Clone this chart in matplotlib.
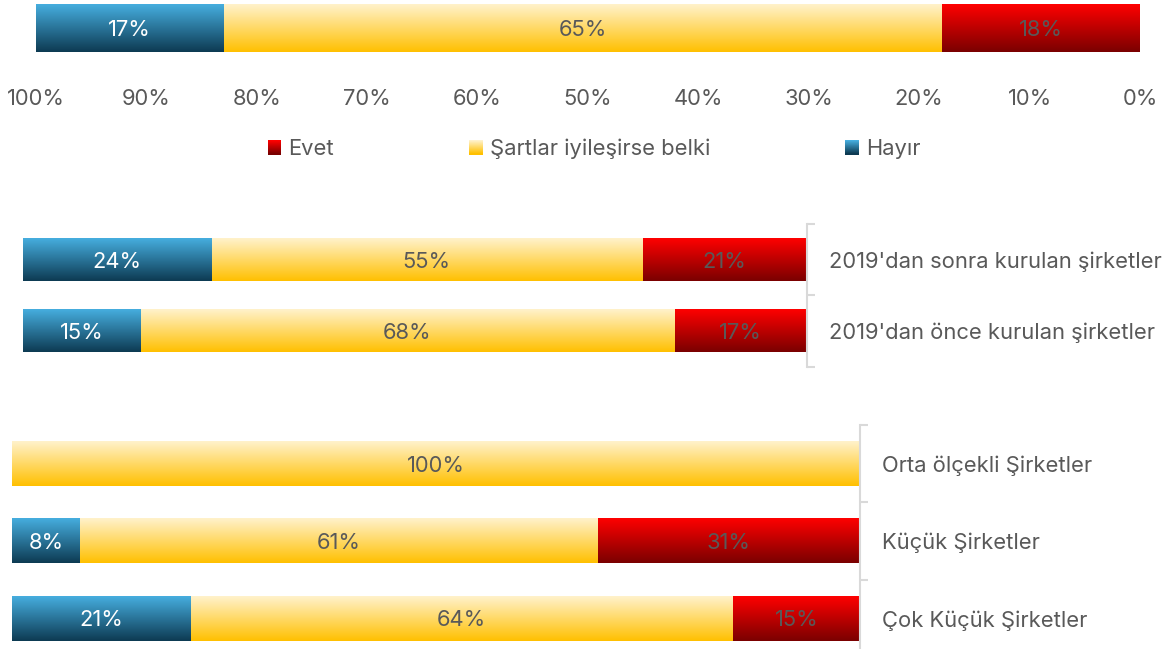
import numpy as np
import matplotlib
matplotlib.use("Agg")
import matplotlib.pyplot as plt
from matplotlib.colors import LinearSegmentedColormap
from matplotlib.patches import Rectangle
from matplotlib.legend_handler import HandlerBase

plt.rcParams["font.family"] = ["Inter", "DejaVu Sans"]

# ---- data -------------------------------------------------------------
series = ["Evet", "Şartlar iyileşirse belki", "Hayır"]

overall = [18, 65, 17]

founding_groups = ["2019'dan sonra kurulan şirketler", "2019'dan önce kurulan şirketler"]
founding_evet = [21, 17]
founding_belki = [55, 68]
founding_hayir = [24, 15]

size_groups = ["Orta ölçekli Şirketler", "Küçük Şirketler", "Çok Küçük Şirketler"]
size_evet = [0, 31, 15]
size_belki = [100, 61, 64]
size_hayir = [0, 8, 21]

tick_values = [100, 90, 80, 70, 60, 50, 40, 30, 20, 10, 0]

# ---- styling ----------------------------------------------------------
GRADIENTS = {
    "Evet": ("#FF0000", "#7A0000"),
    "Şartlar iyileşirse belki": ("#FFF2CC", "#FFC000"),
    "Hayır": ("#46AEDF", "#0D3A52"),
}
LABEL_COLORS = {"Evet": "#595959", "Şartlar iyileşirse belki": "#595959", "Hayır": "white"}
TEXT_GREY = "#595959"
BRACKET = "#D9D9D9"
FS = 15.8

W, H = 1164, 649
fig = plt.figure(figsize=(W / 100, H / 100), dpi=100)


def px_axes(x0, x1, y0, y1):
    return fig.add_axes([x0 / W, 1 - y1 / H, (x1 - x0) / W, (y1 - y0) / H])


def gradient_fill(ax, patch, name):
    top, bottom = GRADIENTS[name]
    cmap = LinearSegmentedColormap.from_list(name, [top, bottom])
    x0, y0 = patch.get_x(), patch.get_y()
    w, h = patch.get_width(), patch.get_height()
    grad = np.linspace(0, 1, 256).reshape(-1, 1)
    ax.imshow(grad, cmap=cmap, aspect="auto", origin="upper",
              extent=[x0, x0 + w, y0, y0 + h], interpolation="bicubic", zorder=2)
    patch.set_visible(False)


def stacked(ax, ypos, evet, belki, hayir, height):
    left = np.zeros(len(ypos))
    for name, vals in zip(series, [evet, belki, hayir]):
        vals = np.asarray(vals, dtype=float) / 100
        bars = ax.barh(ypos, vals, left=left, height=height)
        for bar, v in zip(bars, vals):
            if v <= 0:
                bar.set_visible(False)
                continue
            gradient_fill(ax, bar, name)
            ax.text(bar.get_x() + v / 2, bar.get_y() + bar.get_height() / 2,
                    f"{v * 100:.0f}%", ha="center", va="center_baseline", fontsize=FS,
                    color=LABEL_COLORS[name], zorder=3)
        left = left + vals


def bracket_axis(ax, groups):
    n = len(groups)
    ax.set_xlim(1, 0)
    ax.set_ylim(-0.5, n - 0.5)
    for s in ["top", "bottom", "left"]:
        ax.spines[s].set_visible(False)
    ax.spines["right"].set_color(BRACKET)
    ax.spines["right"].set_linewidth(1.5)
    ax.set_xticks([])
    ax.yaxis.tick_right()
    ax.set_yticks(np.arange(n))
    ax.set_yticklabels(groups[::-1])
    ax.set_yticks(np.arange(n + 1) - 0.5, minor=True)
    ax.tick_params(axis="y", which="major", length=0, pad=16, labelsize=FS,
                   labelcolor=TEXT_GREY)
    ax.tick_params(axis="y", which="minor", length=6, width=1.5, color=BRACKET)


# ---- overall bar with percentage axis --------------------------------
ax1 = px_axes(36, 1140, 0, 56)
stacked(ax1, [0], [overall[0]], [overall[1]], [overall[2]], 48 / 56)
ax1.set_xlim(1, 0)
ax1.set_ylim(-0.5, 0.5)
for s in ax1.spines.values():
    s.set_visible(False)
ax1.set_yticks([])
ax1.set_xticks(np.array(tick_values) / 100)
ax1.set_xticklabels([f"{v}%" for v in tick_values])
ax1.tick_params(axis="x", length=0, pad=24, labelsize=FS, labelcolor=TEXT_GREY)


# ---- legend with gradient swatches -----------------------------------
class GradientHandler(HandlerBase):
    def __init__(self, name):
        super().__init__()
        self.name = name

    def create_artists(self, legend, orig_handle, xdescent, ydescent, width,
                       height, fontsize, trans):
        top, bottom = GRADIENTS[self.name]
        cmap = LinearSegmentedColormap.from_list(self.name, [top, bottom])
        steps = 14
        arts = []
        for i in range(steps):
            c = cmap(i / (steps - 1))
            y = -ydescent + height * (1 - (i + 1) / steps)
            arts.append(Rectangle((-xdescent, y), width, height / steps + 0.2,
                                  facecolor=c, edgecolor="none", transform=trans))
        return arts


handles = [Rectangle((0, 0), 1, 1) for _ in series]
fig.legend(handles, series, loc="center", bbox_to_anchor=(594 / W, 1 - 149 / H),
           ncol=3, frameon=False, fontsize=FS, labelcolor=TEXT_GREY,
           handlelength=0.62, handleheight=0.62, handletextpad=0.33,
           columnspacing=6.15,
           handler_map={h: GradientHandler(n) for h, n in zip(handles, series)})

# ---- by founding year --------------------------------------------------
ax2 = px_axes(23, 807, 223.75, 366.75)
n2 = len(founding_groups)
stacked(ax2, np.arange(n2)[::-1], founding_evet, founding_belki, founding_hayir, 0.6)
bracket_axis(ax2, founding_groups)

# ---- by company size ---------------------------------------------------
ax3 = px_axes(12, 860, 424.75, 657.25)
n3 = len(size_groups)
stacked(ax3, np.arange(n3)[::-1], size_evet, size_belki, size_hayir, 0.58)
bracket_axis(ax3, size_groups)

fig.savefig("out.png", dpi=100)
